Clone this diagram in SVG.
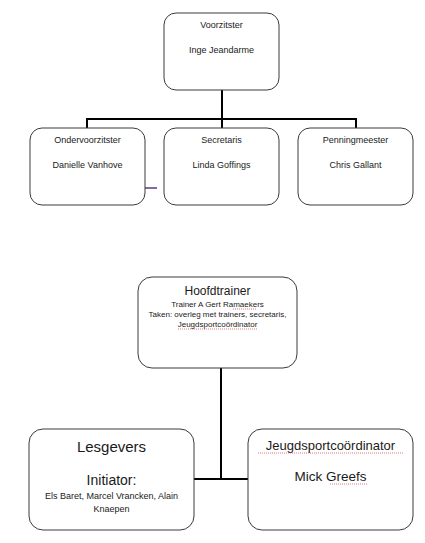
<svg xmlns="http://www.w3.org/2000/svg" width="425" height="543" viewBox="0 0 425 543">
<style>
.box{fill:#fff;stroke:#3a3a3a;stroke-width:1}
.con{stroke:#000;stroke-width:2;fill:none}
text{font-family:"Liberation Sans",Arial,sans-serif;fill:#1a1a1a;text-anchor:middle}
.s{font-size:9px}
.xs{font-size:8px}
.sq{stroke:#d02020;stroke-width:0.6;fill:none;stroke-dasharray:1 1}
</style>
<rect width="425" height="543" fill="#fff"/>
<g id="connectors">
<path class="con" d="M222 90V128M87 128V119H356V128"/>
<path class="con" d="M221 368V479M193 479H248"/>
<line x1="138" y1="188" x2="157" y2="188" stroke="#5a3a80" stroke-width="1.5"/>
</g>
<g id="voorzitster">
<rect class="box" x="164" y="13" width="115" height="77" rx="12"/>
<text class="s" x="221.5" y="28">Voorzitster</text>
<text class="s" x="221.5" y="53">Inge Jeandarme</text>
</g>
<g id="ondervoorzitster">
<rect class="box" x="30" y="128" width="115" height="77" rx="12"/>
<text class="s" x="87.5" y="143">Ondervoorzitster</text>
<text class="s" x="87.5" y="168">Danielle Vanhove</text>
</g>
<g id="secretaris">
<rect class="box" x="164" y="128" width="115" height="77" rx="12"/>
<text class="s" x="221.5" y="143">Secretaris</text>
<text class="s" x="221.5" y="168">Linda Goffings</text>
</g>
<g id="penningmeester">
<rect class="box" x="298" y="128" width="115" height="77" rx="12"/>
<text class="s" x="355.5" y="143">Penningmeester</text>
<text class="s" x="355.5" y="168">Chris Gallant</text>
</g>
<g id="hoofdtrainer">
<rect class="box" x="138" y="277" width="159" height="91" rx="14"/>
<text x="217.5" y="295" font-size="12">Hoofdtrainer</text>
<text class="xs" x="217.5" y="307">Trainer A Gert Ramaekers</text>
<text class="xs" x="217.5" y="317">Taken: overleg met trainers, secretaris,</text>
<text class="xs" x="217.5" y="327">Jeugdsportcoördinator</text>
<path class="sq" d="M233 309H257M178 329H258"/>
</g>
<g id="lesgevers">
<rect class="box" x="29" y="429" width="165" height="101" rx="14"/>
<text x="111.5" y="452" font-size="15">Lesgevers</text>
<text x="111.5" y="485" font-size="14">Initiator:</text>
<text class="s" x="111.5" y="499">Els Baret, Marcel Vrancken, Alain</text>
<text class="s" x="111.5" y="512">Knaepen</text>
</g>
<g id="jeugdsportcoordinator">
<rect class="box" x="248" y="429" width="165" height="101" rx="14"/>
<text x="330.5" y="450" font-size="13">Jeugdsportcoördinator</text>
<text x="330.5" y="481" font-size="13.5">Mick Greefs</text>
<path class="sq" d="M258 453H403M330 484H368"/>
</g>
</svg>
